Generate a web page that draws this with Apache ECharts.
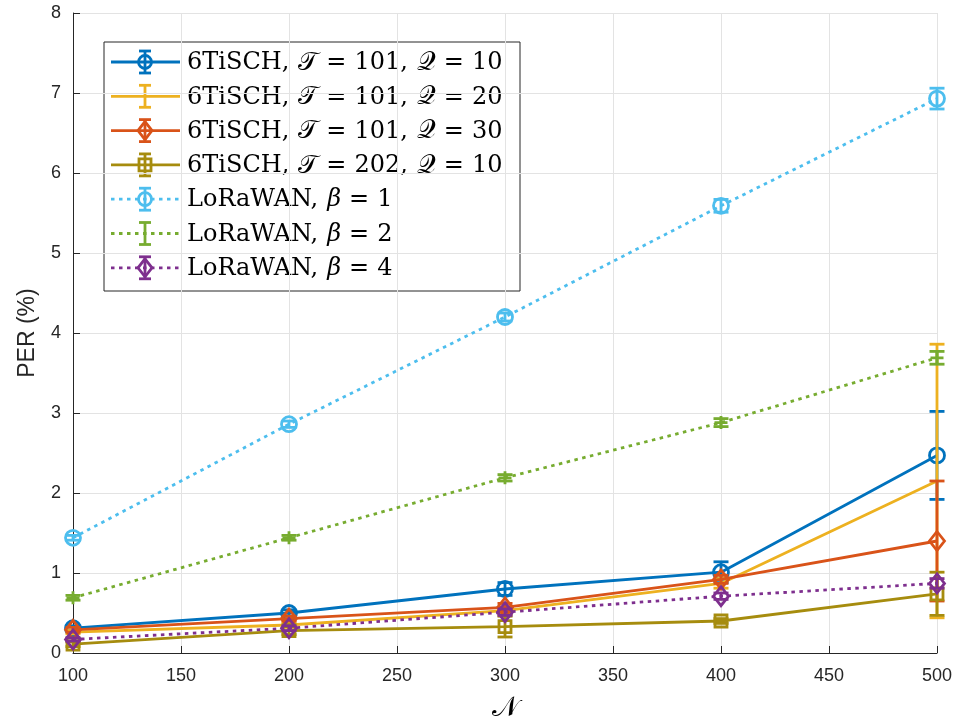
<!DOCTYPE html>
<html>
<head>
<meta charset="utf-8">
<script src="https://cdn.jsdelivr.net/npm/echarts@6/dist/echarts.min.js"></script>
<style>
  html, body { margin: 0; padding: 0; background: #fff; }
  #chart { width: 960px; height: 724px; }
</style>
</head>
<body>
<div id="chart"></div>
<script>
// Number of nodes on the x axis
const nodes = [100, 200, 300, 400, 500];
const xTicks = [100, 150, 200, 250, 300, 350, 400, 450, 500];
const yTicks = [0, 1, 2, 3, 4, 5, 6, 7, 8];

// PER (%) means and error half-widths
const tisch101q10 = [0.31, 0.50, 0.80, 1.01, 2.47];
const tisch101q10Err = [0.03, 0.04, 0.08, 0.13, 0.55];
const tisch101q20 = [0.26, 0.35, 0.53, 0.87, 2.15];
const tisch101q20Err = [0.02, 0.03, 0.04, 0.06, 1.71];
const tisch101q30 = [0.29, 0.43, 0.57, 0.92, 1.40];
const tisch101q30Err = [0.03, 0.03, 0.05, 0.05, 0.75];
const tisch202q10 = [0.11, 0.28, 0.33, 0.40, 0.74];
const tisch202q10Err = [0.03, 0.05, 0.13, 0.03, 0.27];
const lora1 = [1.44, 2.86, 4.20, 5.59, 6.93];
const lora1Err = [0.03, 0.04, 0.05, 0.08, 0.13];
const lora2 = [0.69, 1.44, 2.19, 2.88, 3.69];
const lora2Err = [0.03, 0.03, 0.04, 0.05, 0.08];
const lora4 = [0.17, 0.31, 0.51, 0.71, 0.87];
const lora4Err = [0.02, 0.03, 0.04, 0.04, 0.06];

const seriesNames = [
  '6TiSCH, T = 101, Q = 10',
  '6TiSCH, T = 101, Q = 20',
  '6TiSCH, T = 101, Q = 30',
  '6TiSCH, T = 202, Q = 10',
  'LoRaWAN, β = 1',
  'LoRaWAN, β = 2',
  'LoRaWAN, β = 4'
];
const legendRich = [
  '6TiSCH,{m|𝒯}{e|=}101,{m|𝒬}{e|=}10',
  '6TiSCH,{m|𝒯}{e|=}101,{m|𝒬}{e|=}20',
  '6TiSCH,{m|𝒯}{e|=}101,{m|𝒬}{e|=}30',
  '6TiSCH,{m|𝒯}{e|=}202,{m|𝒬}{e|=}10',
  'LoRaWAN,{b|β}{e|=}1',
  'LoRaWAN,{b|β}{e|=}2',
  'LoRaWAN,{b|β}{e|=}4'
];

const colors = ['#0072BD', '#EDB120', '#D95319', '#A68C0E', '#4DBEEE', '#77AC30', '#7E2F8E'];
const plusPath = 'path://M-1,0L1,0M0,-1L0,1';

const specs = [
  { mean: tisch101q10, err: tisch101q10Err, dotted: false, symbol: 'circle', size: 15 },
  { mean: tisch101q20, err: tisch101q20Err, dotted: false, symbol: 'none', size: 0 },
  { mean: tisch101q30, err: tisch101q30Err, dotted: false, symbol: 'diamond', size: [15, 19] },
  { mean: tisch202q10, err: tisch202q10Err, dotted: false, symbol: 'rect', size: 12 },
  { mean: lora1, err: lora1Err, dotted: true, symbol: 'circle', size: 15 },
  { mean: lora2, err: lora2Err, dotted: true, symbol: plusPath, size: 13 },
  { mean: lora4, err: lora4Err, dotted: true, symbol: 'diamond', size: [15, 19] }
];

const LW = 2.8;
const CAP = 7.5;
const dotted = [3.5, 4.5];

function errorRenderer(color) {
  return function (params, api) {
    const x = api.value(0), y = api.value(1), e = api.value(2);
    const top = api.coord([x, y + e]);
    const bot = api.coord([x, y - e]);
    const st = { stroke: color, lineWidth: LW, lineCap: 'butt' };
    return {
      type: 'group',
      children: [
        { type: 'line', shape: { x1: top[0], y1: top[1], x2: bot[0], y2: bot[1] }, style: st },
        { type: 'line', shape: { x1: top[0] - CAP, y1: top[1], x2: top[0] + CAP, y2: top[1] }, style: st },
        { type: 'line', shape: { x1: bot[0] - CAP, y1: bot[1], x2: bot[0] + CAP, y2: bot[1] }, style: st }
      ]
    };
  };
}

const series = [];
specs.forEach((s, i) => {
  const c = colors[i];
  series.push({
    name: seriesNames[i],
    type: 'line',
    data: nodes.map((n, k) => [n, s.mean[k]]),
    lineStyle: { color: c, width: LW, type: s.dotted ? dotted : 'solid', cap: 'butt' },
    symbol: s.symbol,
    symbolSize: s.size,
    showSymbol: s.symbol !== 'none',
    itemStyle: { color: s.symbol === plusPath ? c : 'rgba(255,255,255,0)', borderColor: c, borderWidth: LW },
    z: 10 + i * 2 + 1,
    silent: true,
    animation: false
  });
  series.push({
    type: 'custom',
    data: nodes.map((n, k) => [n, s.mean[k], s.err[k]]),
    renderItem: errorRenderer(c),
    encode: { x: 0, y: 1 },
    z: 10 + i * 2,
    silent: true,
    animation: false
  });
});

// Legend box drawn as graphic elements
const legX = 104, legY = 42, legW = 416, legH = 249;
const rowY0 = 62, rowStep = 34.3;
const serif = '"DejaVu Serif", serif';
const legendChildren = [
  { type: 'rect', shape: { x: legX, y: legY, width: legW, height: legH },
    style: { fill: '#fff', stroke: '#262626', lineWidth: 1 } }
];
specs.forEach((s, i) => {
  const c = colors[i];
  const cy = rowY0 + i * rowStep;
  const mx = 145;
  legendChildren.push({ type: 'line', shape: { x1: 111, y1: cy, x2: 180, y2: cy },
    style: { stroke: c, lineWidth: LW, lineDash: s.dotted ? dotted : null } });
  const st = { stroke: c, lineWidth: LW };
  legendChildren.push({ type: 'line', shape: { x1: mx, y1: cy - 11, x2: mx, y2: cy + 11 }, style: st });
  legendChildren.push({ type: 'line', shape: { x1: mx - 6, y1: cy - 11, x2: mx + 6, y2: cy - 11 }, style: st });
  legendChildren.push({ type: 'line', shape: { x1: mx - 6, y1: cy + 11, x2: mx + 6, y2: cy + 11 }, style: st });
  if (s.symbol === 'circle') {
    legendChildren.push({ type: 'circle', shape: { cx: mx, cy: cy, r: 6.5 }, style: { fill: 'none', stroke: c, lineWidth: LW } });
  } else if (s.symbol === 'diamond') {
    legendChildren.push({ type: 'polygon', shape: { points: [[mx, cy - 9], [mx + 7, cy], [mx, cy + 9], [mx - 7, cy]] },
      style: { fill: 'none', stroke: c, lineWidth: LW } });
  } else if (s.symbol === 'rect') {
    legendChildren.push({ type: 'rect', shape: { x: mx - 6, y: cy - 6, width: 12, height: 12 },
      style: { fill: 'none', stroke: c, lineWidth: LW } });
  }
  legendChildren.push({
    type: 'text', x: 187, y: cy + 1,
    style: {
      text: legendRich[i],
      font: '24px ' + serif,
      fill: '#000',
      verticalAlign: 'middle',
      rich: {
        m: { fontFamily: serif, fontSize: 26, padding: [0, 0, 0, 9] },
        b: { fontFamily: serif, fontStyle: 'italic', fontSize: 24, padding: [0, 0, 0, 9] },
        e: { fontFamily: serif, fontSize: 24, padding: [0, 8, 0, 8] }
      }
    }
  });
});

const chart = echarts.init(document.getElementById('chart'), null, { renderer: 'canvas' });
chart.setOption({
  animation: false,
  backgroundColor: '#fff',
  grid: { left: 73, right: 23, top: 13, bottom: 71, show: false, outerBoundsMode: 'none', containLabel: false },
  xAxis: {
    type: 'value', min: xTicks[0], max: xTicks[xTicks.length - 1], interval: 50,
    name: '𝒩', nameLocation: 'middle', nameGap: 42,
    nameTextStyle: { fontFamily: serif, fontSize: 28, color: '#000' },
    axisLine: { lineStyle: { color: '#262626', width: 1 } },
    axisTick: { inside: true, length: 7, lineStyle: { color: '#262626' } },
    axisLabel: { color: '#262626', fontFamily: '"Liberation Sans", Arial, sans-serif', fontSize: 18, margin: 14 },
    splitLine: { show: true, lineStyle: { color: '#e3e3e3', width: 1 } }
  },
  yAxis: {
    type: 'value', min: yTicks[0], max: yTicks[yTicks.length - 1], interval: 1,
    name: 'PER (%)', nameLocation: 'middle', nameGap: 34,
    nameTextStyle: { fontFamily: '"Liberation Sans", Arial, sans-serif', fontSize: 23, color: '#262626' },
    axisLine: { lineStyle: { color: '#262626', width: 1 } },
    axisTick: { inside: true, length: 7, lineStyle: { color: '#262626' } },
    axisLabel: { color: '#262626', fontFamily: '"Liberation Sans", Arial, sans-serif', fontSize: 18, margin: 12 },
    splitLine: { show: true, lineStyle: { color: '#e3e3e3', width: 1 } }
  },
  series: series,
  graphic: [{ type: 'group', z: 100, children: legendChildren }]
});
</script>
</body>
</html>
